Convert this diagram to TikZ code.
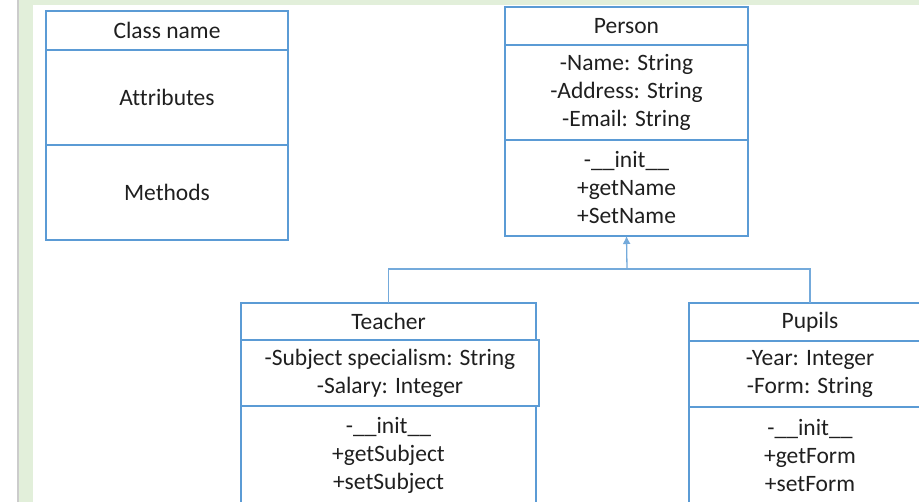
\documentclass[tikz,border=0pt]{standalone}
\usepackage{fontspec}
\setmainfont[Ligatures=NoCommon]{Carlito}
\usepackage{tikz}
\usetikzlibrary{arrows.meta}
\definecolor{umlblue}{RGB}{91,155,213}
\definecolor{pagegreen}{RGB}{226,239,218}

\begin{document}
\begin{tikzpicture}[x=1pt, y=-1pt, every node/.style={font=\fontsize{23.5}{28}\selectfont, text=black!88},
  part/.style={draw=umlblue, line width=1.4pt, anchor=north west, align=center, inner sep=0pt, outer sep=0pt},
  link/.style={draw=umlblue!85, line width=1.3pt}]
  \useasboundingbox (0,0) rectangle (919,502);
  \clip (0,0) rectangle (919,502);
  % page behind the diagram
  \fill[pagegreen] (19,0) rectangle (919,5);
  \fill[pagegreen] (19,0) rectangle (33,502);
  \draw[gray!40, line width=1.5pt] (18,0) -- (18,502);
  % key
  \node[part, minimum width=242pt, minimum height=39pt] (kname) at (46,11) {Class name};
  \node[part, minimum width=242pt, minimum height=95pt] (kattr) at (kname.south west) {Attributes};
  \node[part, minimum width=242pt, minimum height=95pt] (kmeth) at (kattr.south west) {Methods};
  % Person
  \node[part, minimum width=243pt, minimum height=38pt] (pname) at (505,7) {Person};
  \node[part, minimum width=243pt, minimum height=95pt] (pattr) at (pname.south west)
    {-Name: String\\-Address: String\\-Email: String};
  \node[part, minimum width=243pt, minimum height=96pt] (pmeth) at (pattr.south west)
    {-\_\_init\_\_\\+getName\\+SetName};
  % Teacher
  \node[part, minimum width=295pt, minimum height=37pt] (tname) at (241,303) {Teacher};
  \node[part, minimum width=298pt, minimum height=66pt] (tattr) at (tname.south west)
    {-Subject specialism: String\\-Salary: Integer};
  \node[part, minimum width=295pt, minimum height=98pt] (tmeth) at (tattr.south west)
    {-\_\_init\_\_\\+getSubject\\+setSubject};
  % Pupils
  \node[part, minimum width=242pt, minimum height=38pt] (uname) at (689,303) {Pupils};
  \node[part, minimum width=242pt, minimum height=66pt] (uattr) at (uname.south west)
    {-Year: Integer\\-Form: String};
  \node[part, minimum width=242pt, minimum height=98pt] (umeth) at (uattr.south west)
    {-\_\_init\_\_\\+getForm\\+setForm};
  % inheritance
  \coordinate (fork) at (627,269);
  \draw[link, -{Latex[length=8pt,width=8pt]}] (fork) -- (pmeth.south);
  \draw[link] (tname.north) |- (fork) -| (uname.north);
\end{tikzpicture}
\end{document}
